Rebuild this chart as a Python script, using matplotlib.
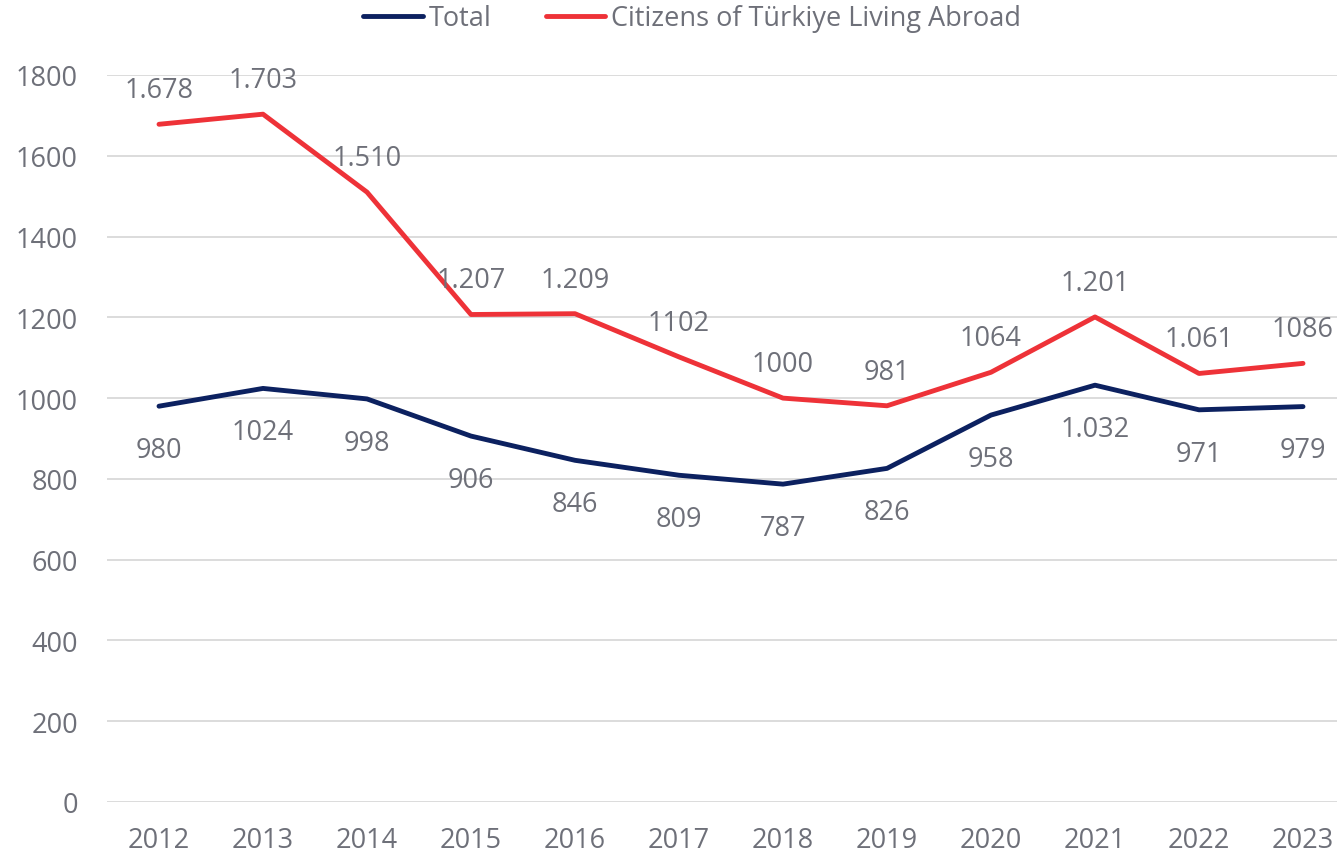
import numpy as np
import matplotlib.pyplot as plt

# data
years = ['2012', '2013', '2014', '2015', '2016', '2017',
         '2018', '2019', '2020', '2021', '2022', '2023']
total = [980, 1024, 998, 906, 846, 809, 787, 826, 958, 1032, 971, 979]
abroad = [1678, 1703, 1510, 1207, 1209, 1102, 1000, 981, 1064, 1201, 1061, 1086]
total_labels = ['980', '1024', '998', '906', '846', '809',
                '787', '826', '958', '1.032', '971', '979']
abroad_labels = ['1.678', '1.703', '1.510', '1.207', '1.209', '1102',
                 '1000', '981', '1064', '1.201', '1.061', '1086']

text_color = '#6e7079'
navy = '#0c2160'
red = '#ee3238'

plt.rcParams['font.family'] = ['Open Sans', 'DejaVu Sans']

fig = plt.figure(figsize=(13.37, 8.62), dpi=100)
# axes reaches a bit past the right edge, like the reference
ax = fig.add_axes([107 / 1337, 59 / 862, 1248 / 1337, 727 / 862])

x = np.arange(len(years))
ax.plot(x, total, color=navy, lw=3.5, label='Total', solid_capstyle='round')
ax.plot(x, abroad, color=red, lw=3.5, label='Citizens of Türkiye Living Abroad',
        solid_capstyle='round')

for xi, v, s in zip(x, abroad, abroad_labels):
    ax.annotate(s, (xi, v), xytext=(0, 24.5), textcoords='offset points',
                ha='center', va='center', fontsize=19.5, color=text_color)
for xi, v, s in zip(x, total, total_labels):
    ax.annotate(s, (xi, v), xytext=(0, -31.5), textcoords='offset points',
                ha='center', va='center', fontsize=19.5, color=text_color)

ax.set_xlim(-0.5, 11.5)
ax.set_ylim(0, 1800)
ax.set_yticks(np.arange(0, 1801, 200))
ax.set_xticks(x)
ax.set_xticklabels(years)
ax.tick_params(axis='both', length=0, labelsize=19.5, labelcolor=text_color)
ax.tick_params(axis='y', pad=21)
ax.tick_params(axis='x', pad=17)
ax.grid(axis='y', color='#d9d9d9', lw=1.3)
ax.set_axisbelow(True)
for sp in ax.spines.values():
    sp.set_visible(False)

leg = fig.legend(loc='upper center', bbox_to_anchor=(692 / 1337, 1.022), ncol=2,
                 frameon=False, fontsize=19.5, handlelength=2.2, handletextpad=0.2,
                 columnspacing=2.0)
for t in leg.get_texts():
    t.set_color(text_color)

fig.savefig('out.png', dpi=100)
